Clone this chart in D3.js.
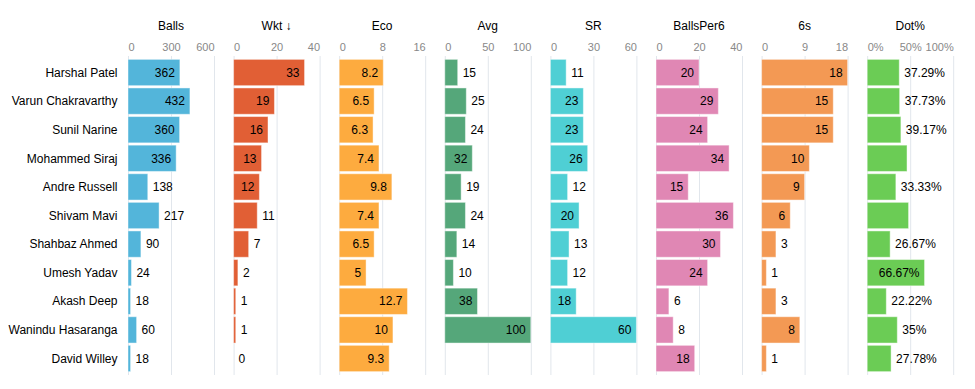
<!DOCTYPE html>
<html>
<head>
<meta charset="utf-8">
<script src="https://cdn.jsdelivr.net/npm/d3@7"></script>
<style>
  body { margin: 0; background: #fff; }
  text { font-family: "Liberation Sans", Arial, sans-serif; }
</style>
</head>
<body>
<div class="chart"></div>
<script>
var players = ["Harshal Patel", "Varun Chakravarthy", "Sunil Narine", "Mohammed Siraj", "Andre Russell",
  "Shivam Mavi", "Shahbaz Ahmed", "Umesh Yadav", "Akash Deep", "Wanindu Hasaranga", "David Willey"];
var balls = [362, 432, 360, 336, 138, 217, 90, 24, 18, 60, 18];
var wkt = [33, 19, 16, 13, 12, 11, 7, 2, 1, 1, 0];
var eco = [8.2, 6.5, 6.3, 7.4, 9.8, 7.4, 6.5, 5, 12.7, 10, 9.3];
var avg = [15, 25, 24, 32, 19, 24, 14, 10, 38, 100, null];
var sr = [11, 23, 23, 26, 12, 20, 13, 12, 18, 60, null];
var ballsPer6 = [20, 29, 24, 34, 15, 36, 30, 24, 6, 8, 18];
var sixes = [18, 15, 15, 10, 9, 6, 3, 1, 3, 8, 1];
var dot = [0.3729, 0.3773, 0.3917, 0.463, 0.3333, 0.481, 0.2667, 0.6667, 0.2222, 0.35, 0.2778];
var dotLabels = ["37.29%", "37.73%", "39.17%", "", "33.33%", "", "26.67%", "66.67%", "22.22%", "35%", "27.78%"];

var titles = ["Balls", "Wkt \u2193", "Eco", "Avg", "SR", "BallsPer6", "6s", "Dot%"];
var series = [balls, wkt, eco, avg, sr, ballsPer6, sixes, dot];
var tickSets = [[0, 300, 600], [0, 20, 40], [0, 8, 16], [0, 50, 100], [0, 30, 60], [0, 20, 40], [0, 9, 18], [0, 0.5, 1]];
var colors = ["#53b5da", "#e15f35", "#fdab3f", "#55a77a", "#4fcfd4", "#e087b4", "#f39954", "#6bcc55"];

var width = 975, height = 389;
var colLeft = 128, colStep = 105.6, colWidth = 86;
var yTop = 56.5, yBottom = 374.5;

var svg = d3.select(".chart").append("svg")
  .attr("width", width)
  .attr("height", height);

var y = d3.scaleBand()
  .domain(players)
  .range([yTop, yBottom])
  .paddingInner(0.08)
  .paddingOuter(0.1);

// row labels
svg.append("g")
  .selectAll("text")
  .data(players)
  .enter().append("text")
  .attr("x", 117.5)
  .attr("y", function (d) { return y(d) + y.bandwidth() / 2; })
  .attr("dy", "0.35em")
  .attr("text-anchor", "end")
  .style("font-size", "12px")
  .style("fill", "#000")
  .text(function (d) { return d; });

titles.forEach(function (title, i) {
  var x0 = colLeft + i * colStep;
  var ticks = tickSets[i];
  var x = d3.scaleLinear().domain([0, ticks[ticks.length - 1]]).range([0, colWidth]);
  var fmt = i === 7 ? d3.format(".0%") : d3.format("d");
  var labelFmt = function (v, j) {
    if (i === 7) return dotLabels[j];
    return String(v);
  };

  var col = svg.append("g").attr("transform", "translate(" + x0 + ",0)");

  col.append("text")
    .attr("x", colWidth / 2)
    .attr("y", 30)
    .attr("text-anchor", "middle")
    .style("font-size", "12px")
    .style("fill", "#000")
    .text(title);

  // gridlines
  col.append("g")
    .selectAll("line")
    .data(ticks)
    .enter().append("line")
    .attr("x1", function (d) { return x(d) + 0.5; })
    .attr("x2", function (d) { return x(d) + 0.5; })
    .attr("y1", yTop - 0.5)
    .attr("y2", yBottom + 0.5)
    .style("stroke", "#e1e6ec")
    .style("stroke-width", 1);

  var axis = col.append("g")
    .attr("transform", "translate(0,51)")
    .call(d3.axisTop(x).tickValues(ticks).tickSize(0).tickPadding(0).tickFormat(fmt));
  axis.select(".domain").remove();
  axis.selectAll("text")
    .attr("dy", "0")
    .style("font-family", "\"Liberation Sans\", Arial, sans-serif")
    .style("font-size", "11px")
    .style("fill", "#888")
    .attr("text-anchor", function (d, j) { return j === 0 ? "start" : (j === ticks.length - 1 ? "end" : "middle"); });

  var rows = series[i].map(function (v, j) { return { name: players[j], value: v, idx: j }; })
    .filter(function (d) { return d.value !== null; });

  col.append("g")
    .selectAll("rect")
    .data(rows)
    .enter().append("rect")
    .attr("x", 0)
    .attr("y", function (d) { return y(d.name); })
    .attr("width", function (d) { return x(d.value); })
    .attr("height", y.bandwidth())
    .style("fill", colors[i])
    .style("stroke", "#fff")
    .style("stroke-opacity", 0.45)
    .style("stroke-width", 1);

  col.append("g")
    .selectAll("text")
    .data(rows)
    .enter().append("text")
    .attr("y", function (d) { return y(d.name) + y.bandwidth() / 2; })
    .attr("dy", "0.35em")
    .style("font-size", "12px")
    .style("fill", "#000")
    .text(function (d) { return labelFmt(d.value, d.idx); })
    .each(function (d) {
      var w = this.getComputedTextLength();
      var bw = x(d.value);
      var inside = bw >= w + 11.2;
      d3.select(this)
        .attr("x", inside ? bw - 5 : bw + 5)
        .attr("text-anchor", inside ? "end" : "start");
    });
});
</script>
</body>
</html>
